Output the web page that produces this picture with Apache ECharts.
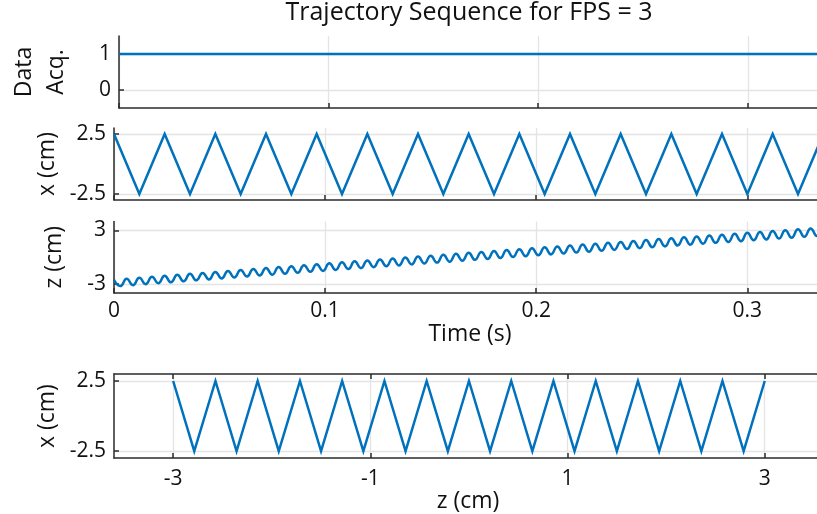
<!DOCTYPE html>
<html>
<head>
<meta charset="utf-8">
<script src="https://cdn.jsdelivr.net/npm/echarts@6/dist/echarts.min.js"></script>
<style>
  html, body { margin: 0; padding: 0; background: #fff; }
  #chart { width: 817px; height: 514px; }
</style>
</head>
<body>
<div id="chart"></div>
<script>
// Acquisition flag over time
const acqTimes = [0, 0.336];
const acqValues = [1, 1];

// Lateral position x (cm): triangle sweep turning points
const xTimes = [0, 0.012, 0.024, 0.036, 0.048, 0.060, 0.072, 0.084, 0.096, 0.108,
  0.120, 0.132, 0.144, 0.156, 0.168, 0.180, 0.192, 0.204, 0.216, 0.228,
  0.240, 0.252, 0.264, 0.276, 0.288, 0.300, 0.312, 0.324, 0.336];
const xValues = [2.5, -2.5, 2.5, -2.5, 2.5, -2.5, 2.5, -2.5, 2.5, -2.5,
  2.5, -2.5, 2.5, -2.5, 2.5, -2.5, 2.5, -2.5, 2.5, -2.5,
  2.5, -2.5, 2.5, -2.5, 2.5, -2.5, 2.5, -2.5, 2.5];

// Axial position z (cm): crest / trough samples every half wobble period
const zSampleStep = 0.003;
const zValues = [
  -2.52, -3.23, -2.41, -3.12, -2.30, -3.01, -2.19, -2.90, -2.08, -2.80,
  -1.97, -2.69, -1.86, -2.58, -1.75, -2.48, -1.64, -2.37, -1.54, -2.26,
  -1.43, -2.16, -1.32, -2.05, -1.21, -1.95, -1.10, -1.84, -1.00, -1.74,
  -0.89, -1.63, -0.78, -1.53, -0.68, -1.42, -0.57, -1.32, -0.46, -1.22,
  -0.36, -1.11, -0.25, -1.01, -0.14, -0.91, -0.04, -0.80, 0.07, -0.70,
  0.17, -0.60, 0.28, -0.49, 0.38, -0.39, 0.49, -0.29, 0.59, -0.19,
  0.70, -0.09, 0.80, 0.02, 0.90, 0.12, 1.01, 0.22, 1.11, 0.32,
  1.21, 0.42, 1.31, 0.52, 1.42, 0.62, 1.52, 0.72, 1.62, 0.82,
  1.72, 0.92, 1.83, 1.02, 1.93, 1.12, 2.03, 1.21, 2.13, 1.31,
  2.23, 1.41, 2.33, 1.51, 2.43, 1.61, 2.53, 1.70, 2.63, 1.80,
  2.73, 1.90, 2.83, 2.00, 2.93, 2.09, 3.03, 2.19, 3.13, 2.29,
  3.23, 2.38, 3.32
];

// Planned path: x against z
const pathZ = [-3, -2.786, -2.571, -2.357, -2.143, -1.929, -1.714, -1.5, -1.286, -1.071,
  -0.857, -0.643, -0.429, -0.214, 0, 0.214, 0.429, 0.643, 0.857, 1.071,
  1.286, 1.5, 1.714, 1.929, 2.143, 2.357, 2.571, 2.786, 3];
const pathX = [2.5, -2.5, 2.5, -2.5, 2.5, -2.5, 2.5, -2.5, 2.5, -2.5,
  2.5, -2.5, 2.5, -2.5, 2.5, -2.5, 2.5, -2.5, 2.5, -2.5,
  2.5, -2.5, 2.5, -2.5, 2.5, -2.5, 2.5, -2.5, 2.5];

// Tick positions
const timeTicks = [0, 0.1, 0.2, 0.3];
const acqTicks = [0, 1];
const xTicks = [-2.5, 2.5];
const zTicks = [-3, 3];
const pathZTicks = [-3, -1, 1, 3];

// Visible axis windows
const timeRange = [0, 0.333];
const pathZRange = [-3.6, 3.53];

const FONT = '"Open Sans", "Noto Sans", sans-serif';
const AXIS_COLOR = '#2b2b2b';
const GRID_COLOR = '#e4e4e4';
const LINE_COLOR = '#0072BD';
const TEXT_COLOR = '#111111';

function zip(a, b) { return a.map((v, i) => [v, b[i]]); }

function valueAxis(extra) {
  const base = {
    type: 'value',
    axisLine: { show: true, onZero: false, lineStyle: { color: AXIS_COLOR, width: 1.5 } },
    axisTick: { show: true, inside: true, length: 5, lineStyle: { color: AXIS_COLOR, width: 1.5 } },
    axisLabel: { color: TEXT_COLOR, fontSize: 21, fontFamily: FONT, margin: 8 },
    splitLine: { show: true, lineStyle: { color: GRID_COLOR, width: 1.3 } },
    nameTextStyle: { color: TEXT_COLOR, fontSize: 23, fontFamily: FONT },
  };
  for (const k in extra) {
    if (typeof extra[k] === 'object' && !Array.isArray(extra[k]) && base[k]) {
      base[k] = Object.assign({}, base[k], extra[k]);
    } else {
      base[k] = extra[k];
    }
  }
  return base;
}

function timeAxis(gridIndex, showLabels, extra) {
  return valueAxis(Object.assign({
    gridIndex: gridIndex,
    min: timeRange[0], max: timeRange[1], interval: 0.1,
    axisTick: { customValues: timeTicks },
    axisLabel: { show: showLabels, customValues: timeTicks }
  }, extra || {}));
}

const chart = echarts.init(document.getElementById('chart'), null, { renderer: 'canvas' });

const option = {
  animation: false,
  backgroundColor: '#ffffff',
  title: {
    text: 'Trajectory Sequence for FPS = 3',
    left: 469, top: 0, textAlign: 'center', padding: 0,
    textStyle: { fontSize: 25, fontWeight: 'normal', color: TEXT_COLOR, fontFamily: FONT }
  },
  grid: [
    { left: 114, top: 36, right: 0, height: 72 },
    { left: 114, top: 128, right: 0, height: 72 },
    { left: 114, top: 221.5, right: 0, height: 71.5 },
    { left: 114, top: 374, right: 0, height: 85 }
  ],
  xAxis: [
    timeAxis(0, false),
    timeAxis(1, false),
    timeAxis(2, true, {
      name: 'Time (s)', nameLocation: 'middle', nameGap: 23.5,
      nameTextStyle: { padding: [0, 0, 0, 9] }
    }),
    valueAxis({
      gridIndex: 3, min: pathZRange[0], max: pathZRange[1],
      axisTick: { customValues: pathZTicks },
      axisLabel: { customValues: pathZTicks, margin: 10 },
      name: 'z (cm)', nameLocation: 'middle', nameGap: 26,
      nameTextStyle: { padding: [0, 0, 0, 5] }
    }),
    valueAxis({
      gridIndex: 3, min: pathZRange[0], max: pathZRange[1], position: 'top',
      axisTick: { customValues: pathZTicks },
      axisLabel: { show: false },
      splitLine: { show: false }
    })
  ],
  yAxis: [
    valueAxis({
      gridIndex: 0, min: -0.5, max: 1.5,
      axisTick: { customValues: acqTicks },
      axisLabel: { customValues: acqTicks },
      name: 'Data\nAcq.', nameLocation: 'middle', nameRotate: 90, nameGap: 47,
      nameTextStyle: { lineHeight: 32 }
    }),
    valueAxis({
      gridIndex: 1, min: -3, max: 3,
      axisTick: { customValues: xTicks },
      axisLabel: { customValues: xTicks },
      name: 'x (cm)', nameLocation: 'middle', nameRotate: 90, nameGap: 48
    }),
    valueAxis({
      gridIndex: 2, min: -4, max: 4,
      axisTick: { customValues: zTicks },
      axisLabel: { customValues: zTicks },
      name: 'z (cm)', nameLocation: 'middle', nameRotate: 90, nameGap: 48
    }),
    valueAxis({
      gridIndex: 3, min: -3, max: 3,
      axisTick: { customValues: xTicks },
      axisLabel: { customValues: xTicks },
      name: 'x (cm)', nameLocation: 'middle', nameRotate: 90, nameGap: 48
    })
  ],
  series: [
    {
      type: 'line', xAxisIndex: 0, yAxisIndex: 0,
      data: zip(acqTimes, acqValues),
      showSymbol: false, lineStyle: { color: LINE_COLOR, width: 2.5 }
    },
    {
      type: 'line', xAxisIndex: 1, yAxisIndex: 1,
      data: zip(xTimes, xValues),
      showSymbol: false, lineStyle: { color: LINE_COLOR, width: 2.5, join: 'miter' }
    },
    {
      type: 'line', xAxisIndex: 2, yAxisIndex: 2,
      data: zValues.map((v, i) => [i * zSampleStep, v]),
      smooth: 0.5, showSymbol: false, lineStyle: { color: LINE_COLOR, width: 2.5 }
    },
    {
      type: 'line', xAxisIndex: 3, yAxisIndex: 3,
      data: zip(pathZ, pathX),
      showSymbol: false, lineStyle: { color: LINE_COLOR, width: 2.5, join: 'miter' }
    }
  ]
};

chart.setOption(option);
</script>
</body>
</html>
